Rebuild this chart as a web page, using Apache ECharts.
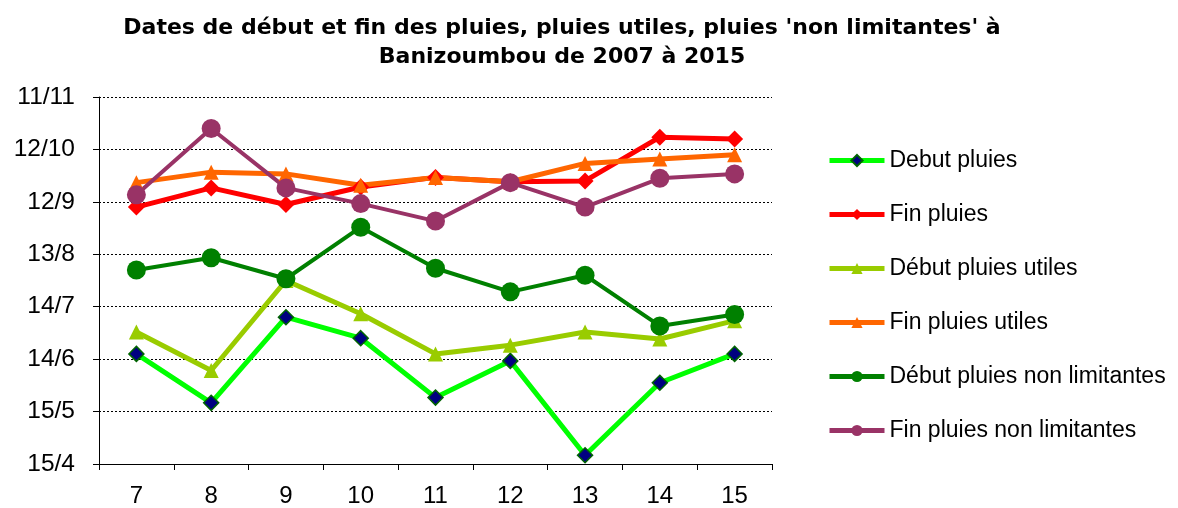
<!DOCTYPE html>
<html><head><meta charset="utf-8">
<script src="https://cdn.jsdelivr.net/npm/echarts@6/dist/echarts.min.js"></script>
<style>html,body{margin:0;padding:0;background:#fff}#c{width:1178px;height:508px}</style>
</head><body><div id="c"></div>
<script>
// Years (2007..2015) shown as 7..15
var categories = ['7','8','9','10','11','12','13','14','15'];
// Y tick labels (day/month), 30 days apart, starting 15/4
var tickLabels = ['15/4','15/5','14/6','14/7','13/8','12/9','12/10','11/11'];
// Values: days after 15 April
var debutPluies = [63, 35, 84, 72, 38, 59, 5, 46.5, 63];
var finPluies = [147, 158, 148.5, 158.5, 164, 161.5, 162, 187, 186];
var debutUtiles = [75.5, 53.5, 105, 86, 63, 68, 75.5, 71.5, 82];
var finUtiles = [161, 167, 166, 159.5, 164, 161.5, 172, 174.5, 177];
var debutNonLim = [111, 118, 106, 135.5, 112, 98.5, 108, 79, 85.5];
var finNonLim = [154, 192, 158, 149, 139, 161, 147, 163.5, 166];

var chart = echarts.init(document.getElementById('c'));
var font = 'Liberation Sans, Arial, sans-serif';
function s(name, data, color, lw, symbol, size, mColor, mBorder) {
  return {
    name: name, type: 'line', data: data,
    symbol: symbol, symbolSize: size,
    lineStyle: {color: color, width: lw},
    itemStyle: {color: mColor || color, borderColor: mBorder || mColor || color, borderWidth: mBorder ? 1.5 : 0},
    emphasis: {disabled: true}, animation: false
  };
}
chart.setOption({
  animation: false,
  title: {
    text: "Dates de début et fin des pluies, pluies utiles, pluies 'non limitantes' à\nBanizoumbou de 2007 à 2015",
    left: 557, top: 9, textAlign: 'center',
    textStyle: {fontFamily: 'DejaVu Sans', fontSize: 22, fontWeight: 'bold', color: '#000', lineHeight: 29}
  },
  grid: {left: 99, right: 406, top: 97, bottom: 42},
  legend: {
    orient: 'vertical', left: 822, top: 144,
    itemWidth: 55, itemHeight: 14, itemGap: 31,
    lineStyle: {width: 5},
    textStyle: {fontFamily: font, fontSize: 23, color: '#000'},
    data: ['Debut pluies','Fin pluies','Début pluies utiles','Fin pluies utiles','Début pluies non limitantes','Fin pluies non limitantes']
  },
  xAxis: {
    type: 'category', data: categories, boundaryGap: true,
    axisLine: {lineStyle: {color: '#000', width: 1}},
    axisTick: {show: true, interval: 0, length: 6, lineStyle: {color: '#000'}},
    axisLabel: {fontFamily: font, fontSize: 24, color: '#000', margin: 20},
    splitLine: {show: false}
  },
  yAxis: {
    type: 'value', min: 0, max: 210, interval: 30,
    axisLine: {show: true, lineStyle: {color: '#000', width: 1}},
    axisTick: {show: true, length: 6, lineStyle: {color: '#000'}},
    axisLabel: {fontFamily: font, fontSize: 24.5, color: '#000', margin: 24,
      formatter: function(v){ return tickLabels[Math.round(v/30)]; }},
    splitLine: {show: true, lineStyle: {color: '#000', type: [2,2], width: 1}}
  },
  series: [
    s('Debut pluies', debutPluies, '#00FF00', 5, 'diamond', 15, '#000080', '#006400'),
    s('Fin pluies', finPluies, '#FF0000', 5, 'diamond', 17),
    s('Début pluies utiles', debutUtiles, '#99CC00', 5, 'triangle', 15),
    s('Fin pluies utiles', finUtiles, '#FF6600', 5, 'triangle', 15),
    s('Début pluies non limitantes', debutNonLim, '#008000', 4, 'circle', 19),
    s('Fin pluies non limitantes', finNonLim, '#993366', 4, 'circle', 19)
  ]
});
</script></body></html>
